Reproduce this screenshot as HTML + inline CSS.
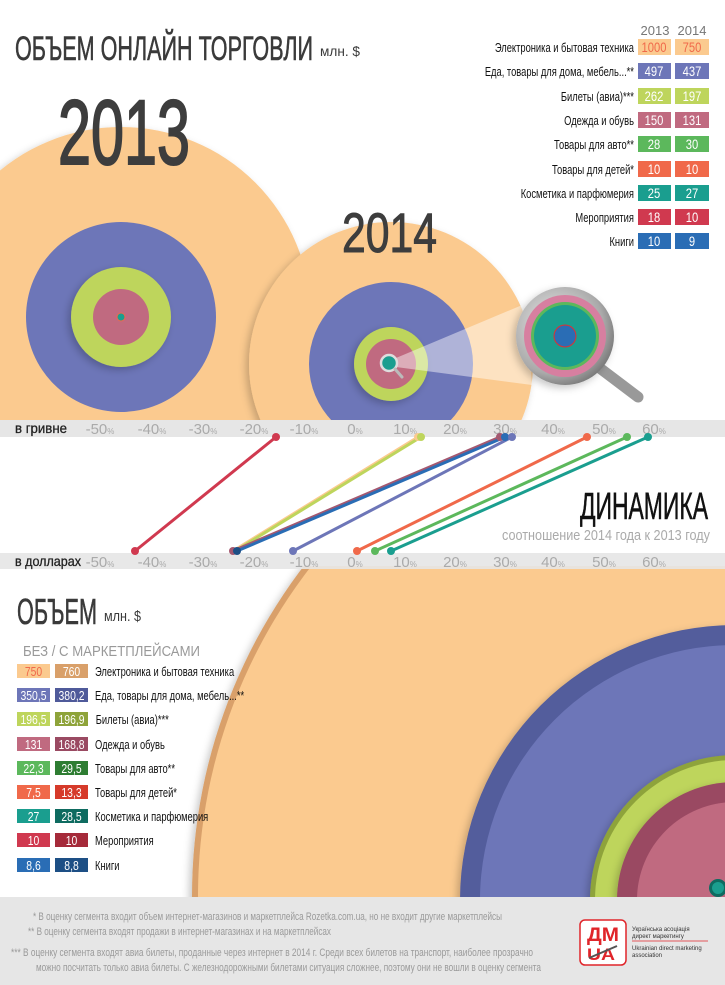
<!DOCTYPE html>
<html><head><meta charset="utf-8"><style>
html,body{margin:0;padding:0;background:#fff;width:725px;height:985px;overflow:hidden;}
svg{display:block;}
text{font-family:"Liberation Sans Narrow","Liberation Sans",sans-serif;}
</style></head><body>
<svg width="725" height="985" viewBox="0 0 725 985" xmlns="http://www.w3.org/2000/svg">
<defs>
<filter id="sh" x="-20%" y="-20%" width="140%" height="140%"><feDropShadow dx="-3" dy="3" stdDeviation="4" flood-color="#000" flood-opacity="0.22"/></filter>
<clipPath id="topc"><rect x="0" y="0" width="725" height="421"/></clipPath>
<clipPath id="botc"><rect x="0" y="566" width="725" height="331"/></clipPath>
<radialGradient id="lens" cx="0.4" cy="0.4" r="0.7"><stop offset="0" stop-color="#eee"/><stop offset="0.7" stop-color="#aaa"/><stop offset="1" stop-color="#666"/></radialGradient>
</defs>

<!-- TOP CIRCLES -->
<g clip-path="url(#topc)">
<circle cx="121" cy="317" r="190" fill="#fbca8f" filter="url(#sh)"/>
<circle cx="121" cy="317" r="95" fill="#6d76b8"/>
<circle cx="121" cy="317" r="50" fill="#bed55c" filter="url(#sh)"/>
<circle cx="121" cy="317" r="28" fill="#c06a80"/>
<circle cx="121" cy="317" r="4" fill="#1a9e8f" stroke="#f0694a" stroke-width="1"/>

<circle cx="391" cy="364" r="142" fill="#fbca8f" filter="url(#sh)"/>
<circle cx="391" cy="364" r="82" fill="#6d76b8"/>
<circle cx="391" cy="364" r="37" fill="#bed55c" filter="url(#sh)"/>
<circle cx="391" cy="364" r="25" fill="#c06a80"/>
<polygon points="396,358 527,303 532,385 396,367" fill="#fff" opacity="0.45"/>
<circle cx="389" cy="363" r="8" fill="#1a9e8f" stroke="#ddd" stroke-width="2.5"/>
<line x1="395" y1="369" x2="402" y2="377" stroke="#bbb" stroke-width="3" stroke-linecap="round"/>

<line x1="597" y1="366" x2="638" y2="397" stroke="#999" stroke-width="11" stroke-linecap="round"/>
<circle cx="565" cy="336" r="49" fill="url(#lens)" filter="url(#sh)"/>
<circle cx="565" cy="336" r="41" fill="#d77fa0"/>
<circle cx="565" cy="336" r="34" fill="#5cb85c"/>
<circle cx="565" cy="336" r="31" fill="#1a9e8f"/>
<circle cx="565" cy="336" r="11" fill="#2a6db5" stroke="#e03030" stroke-width="1"/>
</g>

<!-- TITLE -->
<text x="15" y="60" font-size="34" fill="#3a3a3a" stroke="#3a3a3a" stroke-width="0.6" textLength="298" lengthAdjust="spacingAndGlyphs">ОБЪЕМ ОНЛАЙН ТОРГОВЛИ</text>
<text x="320" y="56" font-size="14" fill="#3a3a3a" textLength="40" lengthAdjust="spacingAndGlyphs">млн. $</text>
<text x="58" y="164" font-size="92" fill="#3d3d3d" stroke="#3d3d3d" stroke-width="2" textLength="132" lengthAdjust="spacingAndGlyphs">2013</text>
<text x="342" y="252" font-size="56" fill="#3d3d3d" stroke="#3d3d3d" stroke-width="1" textLength="95" lengthAdjust="spacingAndGlyphs">2014</text>

<!-- TOP LEGEND -->
<g font-size="13" text-anchor="middle" fill="#777">
<text x="655" y="35">2013</text>
<text x="692" y="35">2014</text>
</g>
<g font-size="13" fill="#111" text-anchor="end" transform="scale(0.72,1)">
<text x="880.5" y="52">Электроника и бытовая техника</text>
<text x="880.5" y="76">Еда, товары для дома, мебель...**</text>
<text x="880.5" y="101">Билеты (авиа)***</text>
<text x="880.5" y="125">Одежда и обувь</text>
<text x="880.5" y="149">Товары для авто**</text>
<text x="880.5" y="174">Товары для детей*</text>
<text x="880.5" y="198">Косметика и парфюмерия</text>
<text x="880.5" y="222">Мероприятия</text>
<text x="880.5" y="246">Книги</text>
</g>
<g>
<rect x="638" y="39" width="33" height="16" fill="#fbca8f"/><rect x="675" y="39" width="34" height="16" fill="#fbca8f"/>
<rect x="638" y="63" width="33" height="16" fill="#6d76b8"/><rect x="675" y="63" width="34" height="16" fill="#6d76b8"/>
<rect x="638" y="88" width="33" height="16" fill="#bed55c"/><rect x="675" y="88" width="34" height="16" fill="#bed55c"/>
<rect x="638" y="112" width="33" height="16" fill="#c06a80"/><rect x="675" y="112" width="34" height="16" fill="#c06a80"/>
<rect x="638" y="136" width="33" height="16" fill="#5cb85c"/><rect x="675" y="136" width="34" height="16" fill="#5cb85c"/>
<rect x="638" y="161" width="33" height="16" fill="#f0694a"/><rect x="675" y="161" width="34" height="16" fill="#f0694a"/>
<rect x="638" y="185" width="33" height="16" fill="#1a9e8f"/><rect x="675" y="185" width="34" height="16" fill="#1a9e8f"/>
<rect x="638" y="209" width="33" height="16" fill="#d0394f"/><rect x="675" y="209" width="34" height="16" fill="#d0394f"/>
<rect x="638" y="233" width="33" height="16" fill="#2a6db5"/><rect x="675" y="233" width="34" height="16" fill="#2a6db5"/>
</g>
<g font-size="14" fill="#fff" text-anchor="middle" transform="scale(0.8,1)">
<text x="817.5" y="52" fill="#f0694a">1000</text><text x="865" y="52" fill="#f0694a">750</text>
<text x="817.5" y="76">497</text><text x="865" y="76">437</text>
<text x="817.5" y="101">262</text><text x="865" y="101">197</text>
<text x="817.5" y="125">150</text><text x="865" y="125">131</text>
<text x="817.5" y="149">28</text><text x="865" y="149">30</text>
<text x="817.5" y="174">10</text><text x="865" y="174">10</text>
<text x="817.5" y="198">25</text><text x="865" y="198">27</text>
<text x="817.5" y="222">18</text><text x="865" y="222">10</text>
<text x="817.5" y="246">10</text><text x="865" y="246">9</text>
</g>

<!-- BOTTOM CIRCLES -->
<g clip-path="url(#botc)">
<circle cx="735" cy="896" r="543" fill="#d9a06a" filter="url(#sh)"/>
<circle cx="735" cy="896" r="537" fill="#fbca8f"/>
<circle cx="735" cy="900" r="275" fill="#535d9c" filter="url(#sh)"/>
<circle cx="735" cy="900" r="255" fill="#6d76b8"/>
<circle cx="735" cy="900" r="145" fill="#8ea33a" filter="url(#sh)"/>
<circle cx="735" cy="900" r="140" fill="#bed55c"/>
<circle cx="735" cy="900" r="118" fill="#9a4a62" filter="url(#sh)"/>
<circle cx="735" cy="900" r="98" fill="#c06a80"/>
<circle cx="718" cy="888" r="9" fill="#0e6b60"/>
<circle cx="718" cy="888" r="6" fill="#1a9e8f"/>
</g>

<!-- DYNAMICS -->
<rect x="0" y="420" width="725" height="17" fill="#e6e6e6"/>
<rect x="0" y="553" width="725" height="16" fill="#e6e6e6" opacity="0.9"/>
<text x="15" y="433" font-size="14" fill="#222" stroke="#222" stroke-width="0.3" textLength="52" lengthAdjust="spacingAndGlyphs">в гривне</text>
<text x="15" y="566" font-size="14" fill="#222" stroke="#222" stroke-width="0.3" textLength="66" lengthAdjust="spacingAndGlyphs">в долларах</text>
<g font-size="15" fill="#aaa" text-anchor="middle">
<text x="100" y="434">-50<tspan font-size="8">%</tspan></text><text x="152" y="434">-40<tspan font-size="8">%</tspan></text>
<text x="203" y="434">-30<tspan font-size="8">%</tspan></text><text x="254" y="434">-20<tspan font-size="8">%</tspan></text>
<text x="304" y="434">-10<tspan font-size="8">%</tspan></text><text x="355" y="434">0<tspan font-size="8">%</tspan></text>
<text x="405" y="434">10<tspan font-size="8">%</tspan></text><text x="455" y="434">20<tspan font-size="8">%</tspan></text>
<text x="505" y="434">30<tspan font-size="8">%</tspan></text><text x="553" y="434">40<tspan font-size="8">%</tspan></text>
<text x="604" y="434">50<tspan font-size="8">%</tspan></text><text x="654" y="434">60<tspan font-size="8">%</tspan></text>
<text x="100" y="567">-50<tspan font-size="8">%</tspan></text><text x="152" y="567">-40<tspan font-size="8">%</tspan></text>
<text x="203" y="567">-30<tspan font-size="8">%</tspan></text><text x="254" y="567">-20<tspan font-size="8">%</tspan></text>
<text x="304" y="567">-10<tspan font-size="8">%</tspan></text><text x="355" y="567">0<tspan font-size="8">%</tspan></text>
<text x="405" y="567">10<tspan font-size="8">%</tspan></text><text x="455" y="567">20<tspan font-size="8">%</tspan></text>
<text x="505" y="567">30<tspan font-size="8">%</tspan></text><text x="553" y="567">40<tspan font-size="8">%</tspan></text>
<text x="604" y="567">50<tspan font-size="8">%</tspan></text><text x="654" y="567">60<tspan font-size="8">%</tspan></text>
</g>
<g stroke-width="3">
<line x1="276" y1="437" x2="135" y2="551" stroke="#d0394f"/>
<line x1="418" y1="437" x2="233" y2="551" stroke="#fbca8f"/>
<line x1="421" y1="437" x2="235" y2="551" stroke="#bed55c"/>
<line x1="500" y1="437" x2="233" y2="551" stroke="#a45870"/>
<line x1="505" y1="437" x2="237" y2="551" stroke="#2a6db5"/>
<line x1="512" y1="437" x2="293" y2="551" stroke="#6d76b8"/>
<line x1="587" y1="437" x2="357" y2="551" stroke="#f0694a"/>
<line x1="627" y1="437" x2="375" y2="551" stroke="#5cb85c"/>
<line x1="648" y1="437" x2="391" y2="551" stroke="#1a9e8f"/>
</g>
<g>
<circle cx="276" cy="437" r="4" fill="#d0394f"/><circle cx="135" cy="551" r="4" fill="#d0394f"/>
<circle cx="418" cy="437" r="4" fill="#fbca8f"/><circle cx="421" cy="437" r="4" fill="#bed55c"/>
<circle cx="500" cy="437" r="4" fill="#a45870"/><circle cx="505" cy="437" r="4" fill="#2a6db5"/>
<circle cx="512" cy="437" r="4" fill="#6d76b8"/><circle cx="587" cy="437" r="4" fill="#f0694a"/>
<circle cx="627" cy="437" r="4" fill="#5cb85c"/><circle cx="648" cy="437" r="4" fill="#1a9e8f"/>
<circle cx="233" cy="551" r="4" fill="#a45870"/><circle cx="237" cy="551" r="4" fill="#1d4f85"/>
<circle cx="293" cy="551" r="4" fill="#6d76b8"/><circle cx="357" cy="551" r="4" fill="#f0694a"/>
<circle cx="375" cy="551" r="4" fill="#5cb85c"/><circle cx="391" cy="551" r="4" fill="#1a9e8f"/>
</g>
<text x="708" y="519" font-size="38" fill="#111" stroke="#111" stroke-width="0.6" text-anchor="end" textLength="128" lengthAdjust="spacingAndGlyphs">ДИНАМИКА</text>
<text x="710" y="540" font-size="15" fill="#aaa" text-anchor="end" textLength="208" lengthAdjust="spacingAndGlyphs">соотношение 2014 года к 2013 году</text>

<!-- BOTTOM LEGEND -->
<text x="17" y="624" font-size="36" fill="#3a3a3a" stroke="#3a3a3a" stroke-width="0.6" textLength="80" lengthAdjust="spacingAndGlyphs">ОБЪЕМ</text>
<text x="104" y="621" font-size="15" fill="#3a3a3a" textLength="37" lengthAdjust="spacingAndGlyphs">млн. $</text>
<text x="23" y="656" font-size="15" fill="#999" textLength="177" lengthAdjust="spacingAndGlyphs">БЕЗ  /  С  МАРКЕТПЛЕЙСАМИ</text>
<g>
<rect x="17" y="664" width="33" height="14" fill="#fbca8f"/><rect x="55" y="664" width="33" height="14" fill="#d9a06a"/>
<rect x="17" y="688" width="33" height="14" fill="#6d76b8"/><rect x="55" y="688" width="33" height="14" fill="#4f5a9a"/>
<rect x="17" y="712" width="33" height="14" fill="#bed55c"/><rect x="55" y="712" width="33" height="14" fill="#8ea33a"/>
<rect x="17" y="737" width="33" height="14" fill="#c06a80"/><rect x="55" y="737" width="33" height="14" fill="#9a4a62"/>
<rect x="17" y="761" width="33" height="14" fill="#5cb85c"/><rect x="55" y="761" width="33" height="14" fill="#2e7d32"/>
<rect x="17" y="785" width="33" height="14" fill="#f0694a"/><rect x="55" y="785" width="33" height="14" fill="#d63a2a"/>
<rect x="17" y="809" width="33" height="14" fill="#1a9e8f"/><rect x="55" y="809" width="33" height="14" fill="#0e6b60"/>
<rect x="17" y="833" width="33" height="14" fill="#d0394f"/><rect x="55" y="833" width="33" height="14" fill="#a52a3a"/>
<rect x="17" y="858" width="33" height="14" fill="#2a6db5"/><rect x="55" y="858" width="33" height="14" fill="#1d4f85"/>
</g>
<g font-size="13" fill="#fff" text-anchor="middle" transform="scale(0.8,1)">
<text x="41.9" y="676" fill="#f0694a">750</text><text x="89.4" y="676">760</text>
<text x="41.9" y="700">350,5</text><text x="89.4" y="700">380,2</text>
<text x="41.9" y="724">196,5</text><text x="89.4" y="724">196,9</text>
<text x="41.9" y="749">131</text><text x="89.4" y="749">168,8</text>
<text x="41.9" y="773">22,3</text><text x="89.4" y="773">29,5</text>
<text x="41.9" y="797">7,5</text><text x="89.4" y="797">13,3</text>
<text x="41.9" y="821">27</text><text x="89.4" y="821">28,5</text>
<text x="41.9" y="845">10</text><text x="89.4" y="845">10</text>
<text x="41.9" y="870">8,6</text><text x="89.4" y="870">8,8</text>
</g>
<g font-size="13" fill="#111" transform="scale(0.72,1)">
<text x="132" y="676">Электроника и бытовая техника</text>
<text x="132" y="700">Еда, товары для дома, мебель...**</text>
<text x="133" y="724">Билеты (авиа)***</text>
<text x="132" y="749">Одежда и обувь</text>
<text x="132" y="773">Товары для авто**</text>
<text x="132" y="797">Товары для детей*</text>
<text x="132" y="821">Косметика и парфюмерия</text>
<text x="132" y="845">Мероприятия</text>
<text x="132" y="870">Книги</text>
</g>

<!-- FOOTER -->
<rect x="0" y="897" width="725" height="88" fill="#e6e6e6"/>
<g font-size="11" fill="#9a9a9a">
<text x="33" y="920" textLength="469" lengthAdjust="spacingAndGlyphs">* В оценку сегмента входит объем интернет-магазинов и маркетплейса Rozetka.com.ua, но не входит другие маркетплейсы</text>
<text x="28" y="935" textLength="303" lengthAdjust="spacingAndGlyphs">** В оценку сегмента входят продажи в интернет-магазинах и на маркетплейсах</text>
<text x="11" y="956" textLength="522" lengthAdjust="spacingAndGlyphs">*** В оценку сегмента входят авиа билеты, проданные через интернет в 2014 г. Среди всех билетов на транспорт, наиболее прозрачно</text>
<text x="36" y="971" textLength="505" lengthAdjust="spacingAndGlyphs">можно посчитать только авиа билеты. С железнодорожными билетами ситуация сложнее, поэтому они не вошли в оценку сегмента</text>
</g>
<rect x="580" y="920" width="46" height="45" rx="5" fill="#fff" stroke="#e0252a" stroke-width="1.5"/>
<text x="603" y="941" font-size="19" font-weight="bold" fill="#e0252a" text-anchor="middle" textLength="32" lengthAdjust="spacingAndGlyphs">ДМ</text>
<text x="601" y="960" font-size="17" font-weight="bold" fill="#e0252a" text-anchor="middle" textLength="28" lengthAdjust="spacingAndGlyphs">UA</text>
<line x1="589" y1="958" x2="617" y2="946" stroke="#555" stroke-width="2"/>
<g font-size="6" fill="#333">
<text x="632" y="931">Українська асоціація</text>
<text x="632" y="938">директ маркетингу</text>
<line x1="632" y1="941" x2="708" y2="941" stroke="#e0252a" stroke-width="0.8"/>
<text x="632" y="950">Ukrainian direct marketing</text>
<text x="632" y="957">association</text>
</g>
</svg>
</body></html>
